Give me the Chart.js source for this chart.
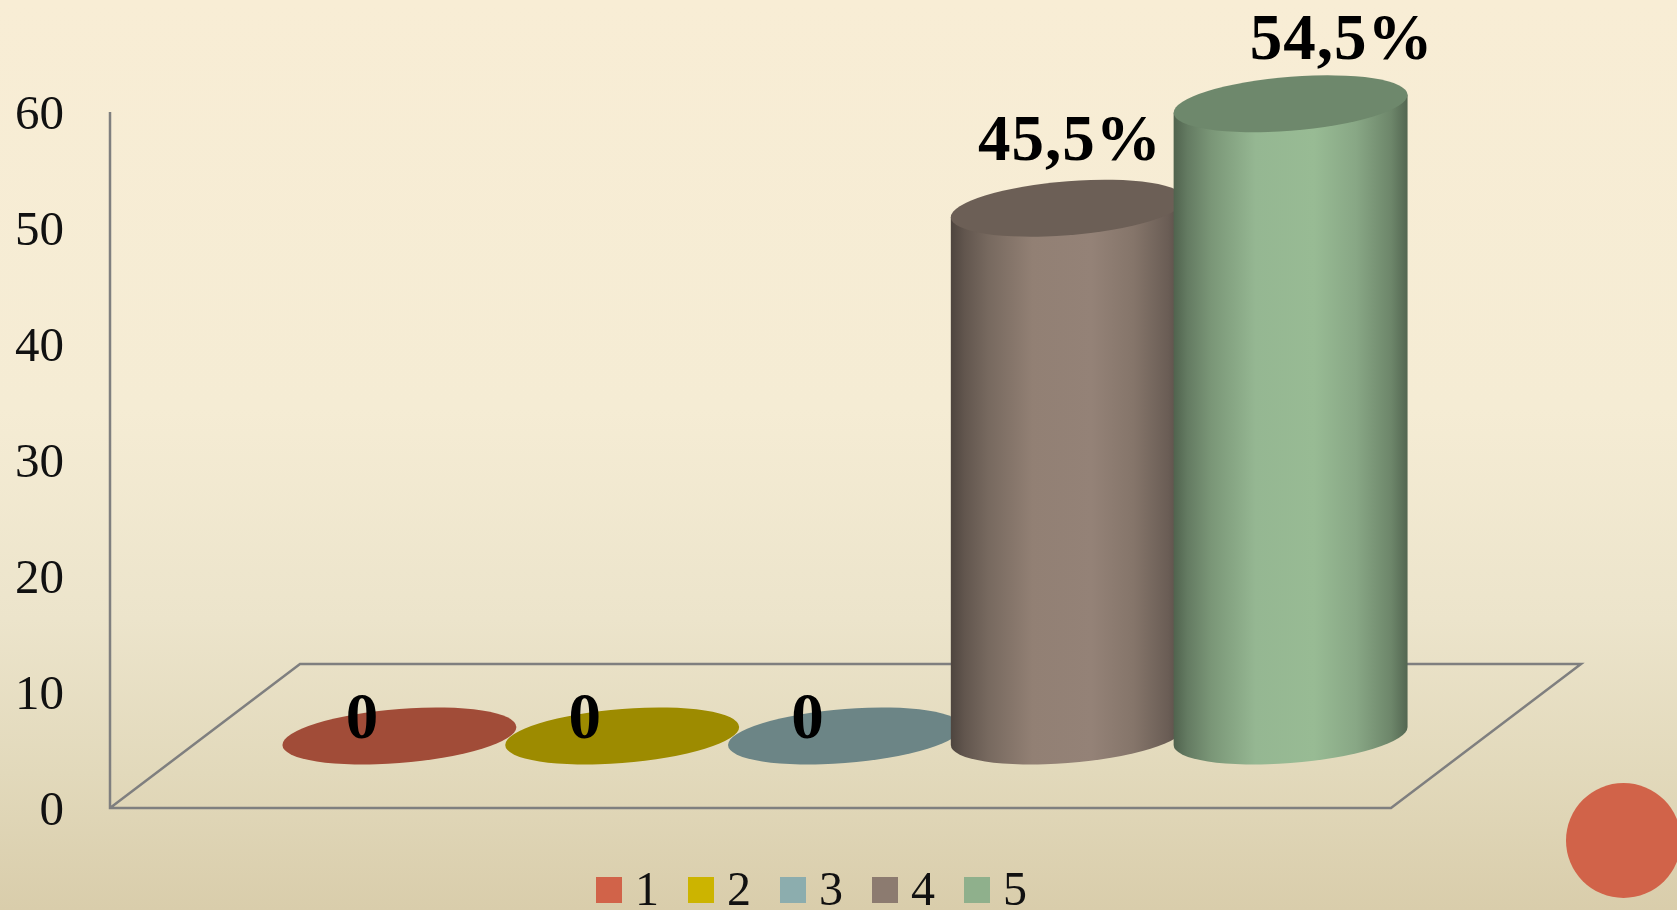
<!DOCTYPE html>
<html>
<head>
<meta charset="utf-8">
<title>Chart</title>
<script src="https://cdn.jsdelivr.net/npm/chart.js"></script>
<style>
    html, body { margin: 0; padding: 0; width: 1677px; height: 910px; overflow: hidden; }
    body { background: linear-gradient(180deg, #f8edd5 0%, #f5ecd4 45%, #ece4cb 68%, #e2d9bb 85%, #d9cdab 100%); position: relative; }
    #chart { position: absolute; left: 0; top: 0; }
    #dot { position: absolute; left: 1566px; top: 783px; width: 115px; height: 115px; border-radius: 50%; background: #d16349; }
</style>
</head>
<body>
<div id="dot"></div>
<canvas id="chart" width="1677" height="910"></canvas>
<script>
const categories = ["1", "2", "3", "4", "5"];
const values = [0, 0, 0, 45.5, 54.5];
const valueLabels = ["0", "0", "0", "45,5%", "54,5%"];
const yTicks = [0, 10, 20, 30, 40, 50, 60];
const barColors = ["#d16349", "#ccb400", "#8cadae", "#8c7b70", "#8fb08c"];

// the labels were moved by hand in the original
const labelShiftX = [-37, -37, -37, 2, 51];
const labelShiftY = [2, 2, 2, -48, -45];

const fontName = "'Liberation Serif', serif";
const floorDepth = 144;
const floorSlant = 190;
const wallX = 110;
const floorRight = 1391;
const barLift = 72; // bars stand in the middle of the floor
const capHeight = 27;
const capTilt = 9;

function shade(hex, f) {
    const n = parseInt(hex.slice(1), 16);
    const r = Math.min(255, Math.round((n >> 16 & 255) * f));
    const g = Math.min(255, Math.round((n >> 8 & 255) * f));
    const b = Math.min(255, Math.round((n & 255) * f));
    return `rgb(${r},${g},${b})`;
}

const floorPlugin = {
    id: "floor",
    beforeDatasetsDraw(chart) {
        const ctx = chart.ctx;
        const y = chart.scales.y;
        const y0 = y.getPixelForValue(0);
        ctx.save();
        ctx.strokeStyle = "#7f7f7f";
        ctx.lineWidth = 2.5;
        ctx.beginPath();
        ctx.moveTo(wallX, y.getPixelForValue(60));
        ctx.lineTo(wallX, y0);
        ctx.lineTo(floorRight, y0);
        ctx.lineTo(floorRight + floorSlant, y0 - floorDepth);
        ctx.lineTo(wallX + floorSlant, y0 - floorDepth);
        ctx.lineTo(wallX, y0);
        ctx.stroke();
        ctx.restore();
    }
};

const cylinderPlugin = {
    id: "cylinder",
    beforeDatasetDraw(chart, args) {
        const ctx = chart.ctx;
        args.meta.data.forEach(function (bar, i) {
            const a = bar.width / 2;
            const h = bar.base - bar.y;
            const color = barColors[i];
            ctx.save();
            ctx.transform(1, -capTilt / a, 0, 1, bar.x, bar.base - barLift);
            if (h > 1) {
                const grad = ctx.createLinearGradient(-a, 0, a, 0);
                grad.addColorStop(0, shade(color, 0.56));
                grad.addColorStop(0.06, shade(color, 0.7));
                grad.addColorStop(0.16, shade(color, 0.85));
                grad.addColorStop(0.35, shade(color, 1.04));
                grad.addColorStop(0.6, shade(color, 1.06));
                grad.addColorStop(0.78, shade(color, 0.95));
                grad.addColorStop(0.93, shade(color, 0.76));
                grad.addColorStop(1, shade(color, 0.58));
                ctx.fillStyle = grad;
                ctx.beginPath();
                ctx.moveTo(-a, -h);
                ctx.lineTo(-a, 0);
                ctx.ellipse(0, 0, a, capHeight, 0, Math.PI, 0, true);
                ctx.lineTo(a, -h);
                ctx.closePath();
                ctx.fill();
            }
            ctx.fillStyle = shade(color, 0.77);
            ctx.beginPath();
            ctx.ellipse(0, -h, a, capHeight, 0, 0, Math.PI * 2);
            ctx.fill();
            ctx.restore();
        });
        return false;
    },
    afterDatasetsDraw(chart) {
        const ctx = chart.ctx;
        const bars = chart.getDatasetMeta(0).data;
        ctx.save();
        ctx.fillStyle = "#000";
        ctx.font = `bold 65px ${fontName}`;
        ctx.letterSpacing = "1px";
        ctx.textAlign = "center";
        ctx.textBaseline = "alphabetic";
        bars.forEach(function (bar, i) {
            ctx.fillText(valueLabels[i], bar.x + labelShiftX[i], bar.y - barLift + labelShiftY[i]);
        });
        ctx.restore();
    }
};

// legend is drawn here, the built-in one can't sit this close to the text
const legendPlugin = {
    id: "bottomLegend",
    afterDraw(chart) {
        const ctx = chart.ctx;
        ctx.save();
        ctx.font = `48px ${fontName}`;
        ctx.textAlign = "left";
        ctx.textBaseline = "middle";
        categories.forEach(function (cat, i) {
            const x = 596 + i * 92;
            ctx.fillStyle = barColors[i];
            ctx.fillRect(x, 877, 26, 26);
            ctx.fillStyle = "#111";
            ctx.fillText(cat, x + 39, 892);
        });
        ctx.restore();
    }
};

new Chart(document.getElementById("chart").getContext("2d"), {
    type: "bar",
    data: {
        labels: categories,
        datasets: [{
            data: values,
            backgroundColor: barColors,
            barPercentage: 1,
            categoryPercentage: 1.05
        }]
    },
    options: {
        responsive: false,
        animation: false,
        layout: { padding: { top: 112, bottom: 102, left: 0, right: 275 } },
        plugins: {
            legend: { display: false },
            tooltip: { enabled: false }
        },
        scales: {
            x: { display: false },
            y: {
                min: 0,
                max: 60,
                afterBuildTicks(scale) {
                    scale.ticks = yTicks.map(function (v) { return { value: v }; });
                },
                afterFit(scale) {
                    scale.width = 288;
                    scale.paddingTop = 0;
                    scale.paddingBottom = 0;
                },
                grid: { display: false, drawTicks: false },
                border: { display: false },
                ticks: {
                    padding: 224,
                    labelOffset: 4,
                    color: "#111",
                    font: { family: fontName, size: 49 }
                }
            }
        }
    },
    plugins: [floorPlugin, cylinderPlugin, legendPlugin]
});
</script>
</body>
</html>
